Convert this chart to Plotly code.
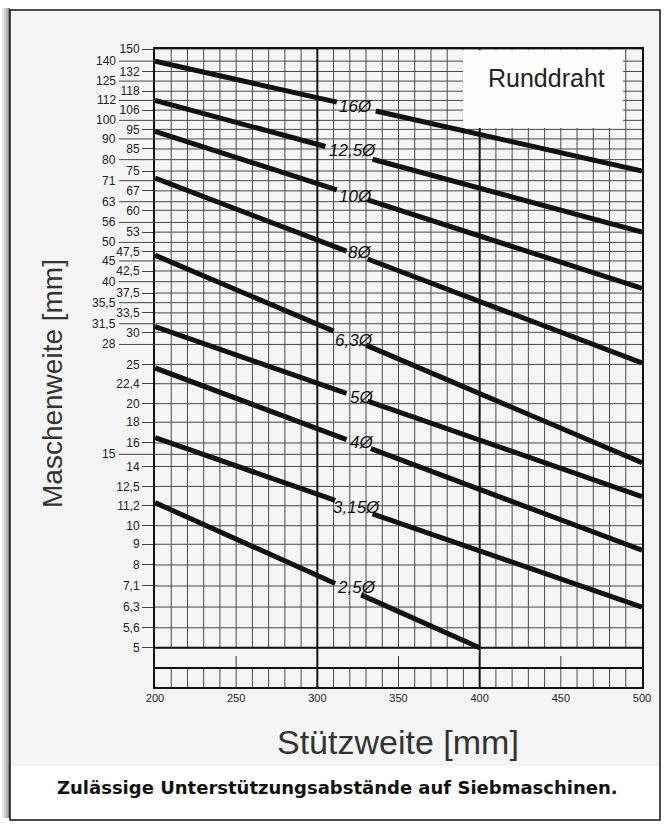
import math
import plotly.graph_objects as go

# ---------------- data ----------------
diameters = ["16", "12,5", "10", "8", "6,3", "5", "4", "3,15", "2,5"]
x_left = [200, 200, 200, 200, 200, 200, 200, 200, 200]
y_left = [140, 112, 94, 72, 46.5, 31, 24.5, 16.5, 11.4]
gap_x0 = [312, 305, 312, 318, 310, 318, 318, 311, 311]
gap_y0 = [110.9, 86.2, 67.4, 47.6, 30.2, 21.2, 16.3, 11.55, 7.2]
gap_x1 = [336, 334, 331, 331, 330, 331, 333, 334, 327]
gap_y1 = [105.5, 80.2, 63.7, 45.5, 27.9, 20.3, 15.5, 10.7, 6.75]
x_right = [500, 500, 500, 500, 500, 500, 500, 500, 400]
y_right = [75, 53, 38.5, 25.2, 14.3, 11.8, 8.7, 6.3, 5]

label_x = [323.8, 321.7, 323.8, 326.3, 322.6, 327.8, 327.8, 324.7, 324.7]
label_y = [108.1, 84.5, 64.8, 47.1, 28.7, 20.7, 16.0, 11.1, 7.02]

# y tick values (right column = short ticks, left column = long ticks)
y_ticks_right = [150, 132, 118, 106, 95, 85, 75, 67, 60, 53, 47.5, 42.5, 37.5,
                 33.5, 30, 25, 22.4, 20, 18, 16, 14, 12.5, 11.2, 10, 9, 8,
                 7.1, 6.3, 5.6, 5]
y_ticks_left = [140, 125, 112, 100, 90, 80, 71, 63, 56, 50, 45, 40, 35.5,
                31.5, 28, 15]
x_ticks = [200, 250, 300, 350, 400, 450, 500]
x_grid = list(range(200, 501, 10))

Y_MIN, Y_MAX = 4.0, 150.0
X_MIN, X_MAX = 200, 500


def fmt(v):
    return ("%g" % v).replace(".", ",")


# ---------------- layout helpers (pixel -> paper) ----------------
L, R, T, B = 155, 23, 49, 142
W, H = 665, 829
PW, PH = W - L - R, H - T - B


def PX(x):
    return (x - L) / PW


def PY(y):
    return (H - B - y) / PH


def XD(px):
    # pixel -> x data value (for layout boxes only)
    return X_MIN + (px - L) / PW * (X_MAX - X_MIN)


lo, hi = math.log10(Y_MIN), math.log10(Y_MAX)


def PV(v):
    # y value -> paper fraction on the log axis
    return (math.log10(v) - lo) / (hi - lo)


p5 = PV(5)
p_band = PY(668)

GRID = "#4a4a4a"
INK = "#111111"

fig = go.Figure()

for i, d in enumerate(diameters):
    fig.add_trace(go.Scatter(
        x=[x_left[i], gap_x0[i]], y=[y_left[i], gap_y0[i]],
        mode="lines", line=dict(color=INK, width=5),
        showlegend=False, hoverinfo="skip"))
    fig.add_trace(go.Scatter(
        x=[gap_x1[i], x_right[i]], y=[gap_y1[i], y_right[i]],
        mode="lines", line=dict(color=INK, width=5),
        showlegend=False, hoverinfo="skip"))

shapes = []
# scanned-paper background and outer frame with shadow
for k, c in enumerate(["#e8e8e8", "#d0d0d0", "#b0b0b0", "#888888"]):
    shapes.append(dict(type="rect", xref="paper", yref="paper",
                       x0=PX(2 + 2 * k), x1=PX(4 + 2 * k), y0=PY(818), y1=PY(8),
                       line=dict(width=0), fillcolor=c, layer="below"))
shapes.append(dict(type="rect", xref="paper", yref="paper",
                   x0=PX(11), x1=PX(659), y0=PY(766), y1=PY(11),
                   line=dict(width=0), fillcolor="#f5f5f5", layer="below"))
shapes.append(dict(type="rect", xref="paper", yref="paper",
                   x0=PX(10), x1=PX(660), y0=PY(820), y1=PY(10),
                   line=dict(width=1.5, color=INK), fillcolor="rgba(0,0,0,0)",
                   layer="above"))

# horizontal grid lines (both columns) inside the plot
for v in y_ticks_right + y_ticks_left:
    shapes.append(dict(type="line", xref="x", yref="paper", x0=X_MIN, x1=X_MAX,
                       y0=PV(v), y1=PV(v), line=dict(color=GRID, width=1),
                       layer="between"))
# long ticks of the left column (outside the plot)
for v in y_ticks_left:
    shapes.append(dict(type="line", xref="paper", yref="paper", x0=PX(119), x1=0,
                       y0=PV(v), y1=PV(v), line=dict(color="#444444", width=1),
                       layer="above"))

# vertical grid lines
for xv in x_grid:
    if xv in (300, 400):
        shapes.append(dict(type="line", xref="x", yref="paper", x0=xv, x1=xv,
                           y0=0, y1=1, line=dict(color=INK, width=2),
                           layer="between"))
    elif xv in (200, 500):
        continue
    else:
        shapes.append(dict(type="line", xref="x", yref="paper", x0=xv, x1=xv,
                           y0=p5, y1=1, line=dict(color=GRID, width=1),
                           layer="between"))
        shapes.append(dict(type="line", xref="x", yref="paper", x0=xv, x1=xv,
                           y0=0, y1=p_band, line=dict(color=GRID, width=1),
                           layer="between"))
    if xv in (250, 350, 450):
        shapes.append(dict(type="line", xref="x", yref="paper", x0=xv, x1=xv,
                           y0=p_band, y1=PY(656), line=dict(color="#333333", width=1),
                           layer="between"))

# heavy horizontals at 5 and at band bottom
shapes.append(dict(type="line", xref="x", yref="paper", x0=X_MIN, x1=X_MAX,
                   y0=p5, y1=p5, line=dict(color=INK, width=2), layer="between"))
shapes.append(dict(type="line", xref="x", yref="paper", x0=X_MIN, x1=X_MAX,
                   y0=p_band, y1=p_band, line=dict(color=INK, width=2),
                   layer="between"))
# white box for "Runddraht"
shapes.append(dict(type="rect", xref="x", yref="paper",
                   x0=XD(463), x1=XD(623), y0=PY(128), y1=PY(50),
                   line=dict(width=0), fillcolor="#fdfdfd", layer="between"))

annotations = []
for i, d in enumerate(diameters):
    annotations.append(dict(x=label_x[i], y=math.log10(label_y[i]), xref="x", yref="y",
                            text="<i>%sØ</i>" % d, showarrow=False,
                            xanchor="center", yanchor="middle",
                            font=dict(family="Liberation Sans", size=17, color=INK)))

tick_font = dict(family="Liberation Sans", size=12, color="#222222")

for v in y_ticks_left:
    annotations.append(dict(x=PX(118), y=math.log10(v), xref="paper", yref="y",
                            text=fmt(v), showarrow=False, xanchor="right",
                            yanchor="middle", font=tick_font))

annotations += [
    dict(x=PX(546), y=PY(78), xref="paper", yref="paper", text="Runddraht",
         showarrow=False, xanchor="center", yanchor="middle",
         font=dict(family="Liberation Sans", size=25, color="#222222")),
    dict(x=PX(52), y=PY(384), xref="paper", yref="paper", text="Maschenweite [mm]",
         textangle=-90, showarrow=False, xanchor="center", yanchor="middle",
         font=dict(family="Liberation Sans", size=28, color="#333333")),
    dict(x=PX(398), y=PY(742), xref="paper", yref="paper", text="Stützweite [mm]",
         showarrow=False, xanchor="center", yanchor="middle",
         font=dict(family="Liberation Sans", size=34, color="#333333")),
    dict(x=PX(337), y=PY(787), xref="paper", yref="paper",
         text="<b>Zulässige Unterstützungsabstände auf Siebmaschinen.</b>",
         showarrow=False, xanchor="center", yanchor="middle",
         font=dict(family="DejaVu Sans", size=18, color=INK)),
]

fig.update_layout(
    width=W, height=H,
    margin=dict(l=L, r=R, t=T, b=B, pad=0),
    paper_bgcolor="white",
    plot_bgcolor="rgba(0,0,0,0)",
    showlegend=False,
    xaxis=dict(range=[X_MIN, X_MAX], tickvals=x_ticks, ticks="", ticklen=0,
               showgrid=False, zeroline=False,
               showline=True, linecolor=INK, linewidth=2, mirror=True,
               tickfont=dict(family="Liberation Sans", size=11, color="#222222")),
    yaxis=dict(type="log", range=[lo, hi], tickvals=y_ticks_right,
               ticktext=[fmt(v) for v in y_ticks_right], ticks="outside", ticklen=11,
               tickwidth=1, tickcolor="#444444", showgrid=False,
               zeroline=False, showline=True, linecolor=INK,
               linewidth=2, mirror=True, tickfont=tick_font),
    shapes=shapes,
    annotations=annotations,
)

fig.write_html(
    "out.html",
    config={"displayModeBar": False},
    post_script="document.body.style.margin='0px';"
                "document.body.style.padding='0px';"
                "document.body.style.overflow='hidden';",
)
